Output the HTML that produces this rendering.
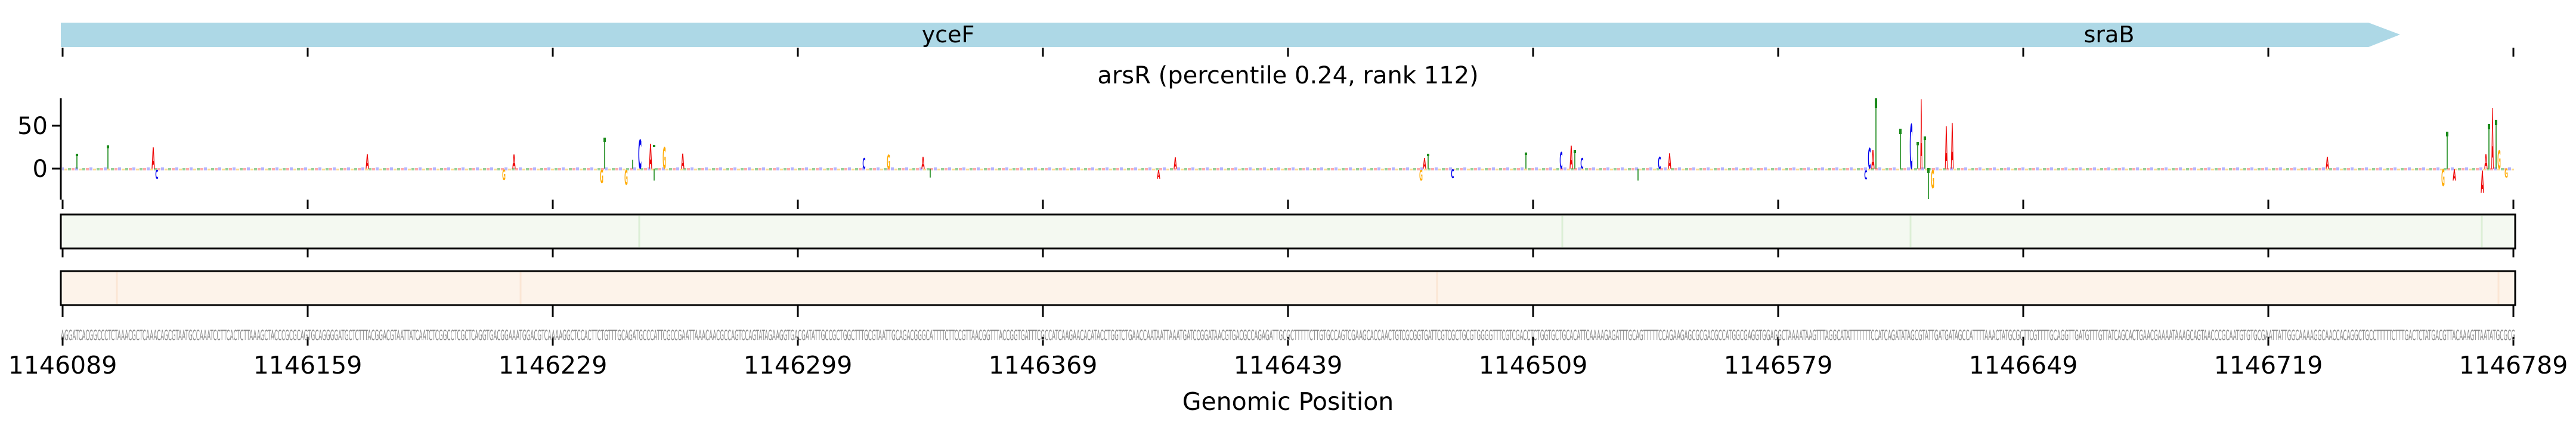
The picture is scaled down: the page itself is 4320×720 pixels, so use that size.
<!DOCTYPE html>
<html><head><meta charset="utf-8"><style>
html,body{margin:0;padding:0;background:#fff;}
svg{display:block;}
text{font-family:"DejaVu Sans","Liberation Sans",sans-serif;}
.l{font-family:"Liberation Sans",sans-serif;font-weight:bold;font-size:100px;text-anchor:middle;}
</style></head><body>
<svg width="4320" height="720" viewBox="0 0 4320 720" xmlns="http://www.w3.org/2000/svg">
<defs>
<pattern id="noise" width="24" height="8" patternUnits="userSpaceOnUse">
<rect x="0" y="2" width="5" height="4" fill="#f66"/>
<rect x="6" y="1" width="5" height="5" fill="#77f"/>
<rect x="12" y="3" width="5" height="3" fill="#fb3"/>
<rect x="18" y="2" width="5" height="4" fill="#4a4"/>
</pattern>
</defs>
<!-- gene bar -->
<polygon points="102,38 3972,38 4025,58 3972,79 102,79" fill="#add8e6"/>
<text x="1590" y="71" font-size="38" text-anchor="middle">yceF</text>
<text x="3537" y="71" font-size="38" text-anchor="middle">sraB</text>
<g stroke="#000" stroke-width="3">
<path d="M105,80V95M516,80V95M927,80V95M1338,80V95M1749,80V95M2160,80V95M2571,80V95M2982,80V95M3393,80V95M3804,80V95M4215,80V95"/>
<path d="M105,335V351M516,335V351M927,335V351M1338,335V351M1749,335V351M2160,335V351M2571,335V351M2982,335V351M3393,335V351M3804,335V351M4215,335V351"/>
<path d="M105,417V432M516,417V432M927,417V432M1338,417V432M1749,417V432M2160,417V432M2571,417V432M2982,417V432M3393,417V432M3804,417V432M4215,417V432"/>
<path d="M105,513V532M516,513V532M927,513V532M1338,513V532M1749,513V532M2160,513V532M2571,513V532M2982,513V532M3393,513V532M3804,513V532M4215,513V532"/>
<path d="M105,565V580M516,565V580M927,565V580M1338,565V580M1749,565V580M2160,565V580M2571,565V580M2982,565V580M3393,565V580M3804,565V580M4215,565V580"/>
</g>
<text x="2160" y="140" font-size="40" text-anchor="middle">arsR (percentile 0.24, rank 112)</text>
<!-- logo axis -->
<path d="M102,165V335M87,211H102M87,283H102" stroke="#000" stroke-width="3" fill="none"/>
<text x="80" y="225" font-size="40" text-anchor="end">50</text>
<text x="80" y="297" font-size="40" text-anchor="end">0</text>
<rect x="104" y="279" width="4112" height="7" fill="url(#noise)" opacity="0.55"/>
<!-- stems (thin T) -->
<g stroke="#1a8a1a" stroke-width="1.6">
<path d="M129,259V283M181,245V283M1014,232V283M1061,268V283M1097,283V303M3146,166V283M3187,217V283M3216,239V283M3228,230V283M3234,283V334M4104,222V283M4174,209V283M4186,202V283M2395,259V283M2559,257V283M2641,253V283M2747,283V303M1560,283V298"/>
</g>
<g fill="#1a8a1a">
<rect x="127" y="258" width="4" height="4"/><rect x="179" y="244" width="4" height="5"/><rect x="1012" y="231" width="4" height="7"/>
<rect x="3144" y="165" width="4" height="16"/><rect x="3185" y="216" width="4" height="9"/><rect x="3214" y="238" width="4" height="6"/>
<rect x="3226" y="229" width="4" height="6"/><rect x="3232" y="282" width="4" height="8"/><rect x="4102" y="221" width="4" height="8"/>
<rect x="4172" y="208" width="4" height="9"/><rect x="4184" y="201" width="4" height="9"/><rect x="2393" y="258" width="4" height="4"/>
<rect x="2557" y="256" width="4" height="4"/><rect x="2639" y="252" width="4" height="5"/><rect x="1095" y="243" width="4" height="4"/>
</g>
<!-- letters: translate(cx, bottom) scale(w/70, h/72) -->
<g class="l">
<text transform="translate(257,283) scale(0.07,0.49)" fill="#e00">A</text>
<text transform="translate(263,300) scale(0.07,0.2)" fill="#00e">C</text>
<text transform="translate(1073,283) scale(0.08,0.67)" fill="#00e">C</text>
<text transform="translate(1091,283) scale(0.07,0.57)" fill="#e00">A</text>
<text transform="translate(1114,283) scale(0.07,0.49)" fill="#fa0">G</text>
<text transform="translate(1009,307) scale(0.07,0.3)" fill="#fa0">G</text>
<text transform="translate(1050,310) scale(0.07,0.34)" fill="#fa0">G</text>
<text transform="translate(616,283) scale(0.07,0.33)" fill="#e00">A</text>
<text transform="translate(862,283) scale(0.07,0.32)" fill="#e00">A</text>
<text transform="translate(845,302) scale(0.07,0.24)" fill="#fa0">G</text>
<text transform="translate(1145,283) scale(0.07,0.35)" fill="#e00">A</text>
<text transform="translate(1449,283) scale(0.07,0.25)" fill="#00e">C</text>
<text transform="translate(1490,283) scale(0.07,0.32)" fill="#fa0">G</text>
<text transform="translate(1548,283) scale(0.07,0.28)" fill="#e00">A</text>
<text transform="translate(1943,300) scale(0.07,0.2)" fill="#e00">A</text>
<text transform="translate(1971,283) scale(0.07,0.26)" fill="#e00">A</text>
<text transform="translate(2383,303) scale(0.07,0.25)" fill="#fa0">G</text>
<text transform="translate(2389,283) scale(0.07,0.25)" fill="#e00">A</text>
<text transform="translate(2436,299) scale(0.07,0.2)" fill="#00e">C</text>
<text transform="translate(2618,283) scale(0.07,0.38)" fill="#00e">C</text>
<text transform="translate(2635,283) scale(0.07,0.53)" fill="#e00">A</text>
<text transform="translate(2653,283) scale(0.07,0.25)" fill="#00e">C</text>
<text transform="translate(2783,283) scale(0.07,0.28)" fill="#00e">C</text>
<text transform="translate(2800,283) scale(0.07,0.36)" fill="#e00">A</text>
<text transform="translate(3135,283) scale(0.07,0.47)" fill="#00e">C</text>
<text transform="translate(3141,283) scale(0.07,0.43)" fill="#e00">A</text>
<text transform="translate(3129,301) scale(0.07,0.2)" fill="#00e">C</text>
<text transform="translate(3205,283) scale(0.07,1.03)" fill="#00e">C</text>
<text transform="translate(3222,283) scale(0.045,1.6)" fill="#e00">A</text>
<text transform="translate(3241,316) scale(0.07,0.42)" fill="#fa0">G</text>
<text transform="translate(3264,283) scale(0.06,0.97)" fill="#e00">A</text>
<text transform="translate(3274,283) scale(0.06,1.05)" fill="#e00">A</text>
<text transform="translate(3903,283) scale(0.07,0.28)" fill="#e00">A</text>
<text transform="translate(4097,312) scale(0.07,0.38)" fill="#fa0">G</text>
<text transform="translate(4116,303) scale(0.07,0.26)" fill="#e00">A</text>
<text transform="translate(4180,283) scale(0.05,1.4)" fill="#e00">A</text>
<text transform="translate(4169,283) scale(0.07,0.33)" fill="#e00">A</text>
<text transform="translate(4163,324) scale(0.07,0.52)" fill="#e00">A</text>
<text transform="translate(4191,283) scale(0.07,0.42)" fill="#fa0">G</text>
<text transform="translate(4203,298) scale(0.07,0.2)" fill="#fa0">G</text>
</g>
<!-- tracks -->
<rect x="102" y="360" width="4116" height="57" fill="#f4f9f1" stroke="#000" stroke-width="3"/>
<g stroke="#dcefd6" stroke-width="3"><path d="M1072,362V415M3204,362V415M4162,362V415M2620,362V415"/></g>
<rect x="102" y="455" width="4116" height="57" fill="#fdf3ea" stroke="#000" stroke-width="3"/>
<g stroke="#fbe6d4" stroke-width="3"><path d="M196,457V510M873,457V510M4190,457V510M2410,457V510"/></g>
<!-- sequence -->
<text x="102" y="571" font-family="Liberation Sans Narrow, Liberation Sans, sans-serif" font-size="24" fill="#888" textLength="4116" lengthAdjust="spacingAndGlyphs">AGGATCACGGCCCTCTAAACGCTCAAACAGCGTAATGCCAAATCCTTCACTCTTAAAGCTACCCGCGCAGTGCAGGGGATGCTCTTTACGGACGTAATTATCAATCTCGGCCTCGCTCAGGTGACGGAAATGGACGTCAAAAGGCTCCACTTCTGTTTGCAGATGCCCATTCGCCGAATTAAACAACGCCAGTCCAGTATAGAAGGTGACGATATTGCCGCTGGCTTTGCGTAATTGCAGACGGGCATTTTCTTCCGTTAACGGTTTACCGGTGATTTCGCCATCAAGAACACATACCTGGTCTGAACCAATAATTAAATGATCCGGATAACGTGACGCCAGAGATTGCGCTTTTTCTTGTGCCAGTCGAAGCACCAACTGTCGCGGTGATTCGTCGCTGCGTGGGGTTTCGTCGACCTCTGGTGCTGCACATTCAAAAGAGATTTGCAGTTTTTCCAGAAGAGCGCGACGCCATGGCGAGGTGGAGGCTAAAATAAGTTTAGGCATATTTTTTTCCATCAGATATAGCGTATTGATGATAGCCATTTTAAACTATGCGCTTCGTTTTGCAGGTTGATGTTTGTTATCAGCACTGAACGAAAATAAAGCAGTAACCCGCAATGTGTGCGAATTATTGGCAAAAGGCAACCACAGGCTGCCTTTTTCTTTGACTCTATGACGTTACAAAGTTAATATGCGCG</text>
<g font-size="41" text-anchor="middle">
<text x="105" y="627">1146089</text><text x="516" y="627">1146159</text><text x="927" y="627">1146229</text><text x="1338" y="627">1146299</text><text x="1749" y="627">1146369</text><text x="2160" y="627">1146439</text><text x="2571" y="627">1146509</text><text x="2982" y="627">1146579</text><text x="3393" y="627">1146649</text><text x="3804" y="627">1146719</text><text x="4215" y="627">1146789</text>
</g>
<text x="2160" y="688" font-size="41" text-anchor="middle">Genomic Position</text>
</svg>
</body></html>
